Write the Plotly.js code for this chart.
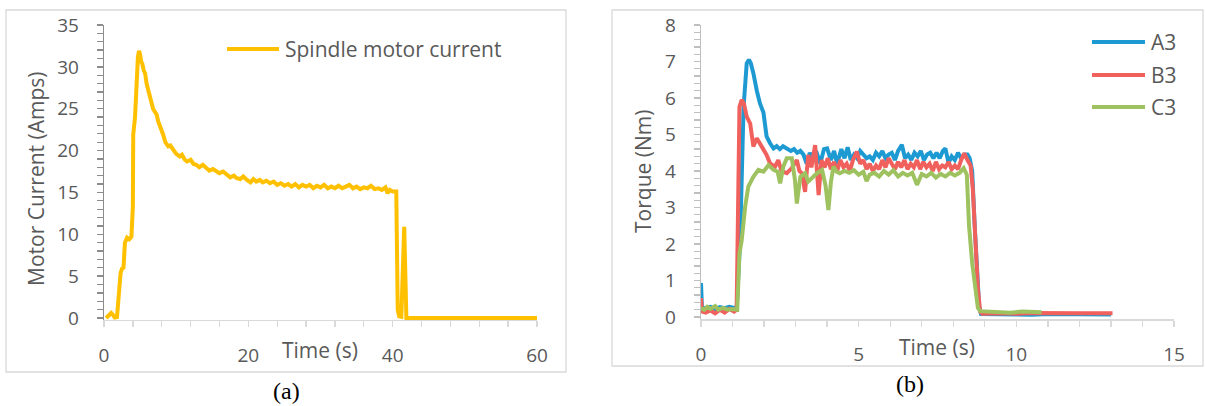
<!DOCTYPE html>
<html>
<head>
<meta charset="utf-8">
<script src="https://cdn.plot.ly/plotly-3.0.1.min.js"></script>
<style>html,body{margin:0;padding:0;background:#fff;}#chart{width:1205px;height:406px;}</style>
</head>
<body>
<div id="chart"></div>
<script>
// ---------- Data ----------
// (a) Spindle motor current
const spindleTime = [0.3,0.7,1.0,1.3,1.5,1.8,2.0,2.3,2.5,2.7,2.9,3.2,3.5,3.8,4.0,4.05,4.3,4.5,4.7,4.85,5.0,5.15,5.3,5.5,5.7,5.9,6.1,6.4,6.6,6.8,7.0,7.3,7.5,7.75,8.0,8.2,8.5,8.9,9.2,9.6,10.0,10.5,10.8,11.2,11.5,12.0,12.4,12.8,13.2,13.7,14.2,14.6,15.1,15.6,16.0,16.5,17.0,17.5,18.0,18.4,18.9,19.3,19.8,20.3,20.7,21.1,21.6,22.0,22.5,23.0,23.5,24.0,24.5,25.0,25.5,26.0,26.5,27.0,27.5,28.0,28.5,29.0,29.5,30.0,30.5,31.0,31.5,32.0,32.5,33.0,33.5,34.0,34.5,35.0,35.5,36.0,36.5,37.0,37.5,38.0,38.5,39.0,39.3,39.6,40.0,40.5,40.7,40.9,41.2,41.6,41.9,60];
const spindleCurrent = [0,0.3,0.6,0.3,0.05,0.1,2.1,5.4,5.9,6.0,9.0,9.6,9.4,9.7,13.3,21.9,24,28,31.2,31.9,31.5,30.6,30.4,29.6,29.2,28,27.3,26.4,26,25,24.7,24.3,23.5,23,22.4,21.9,21,20.5,20.6,20.1,19.6,19.3,19.5,18.9,18.7,18.9,18.4,18.3,18.0,18.3,17.9,17.6,17.8,17.5,17.3,17.5,17.1,16.8,17.0,16.7,16.6,16.9,16.5,16.2,16.6,16.3,16.5,16.2,16.4,16.1,16.3,15.9,16.1,15.8,16.0,15.7,16.0,15.6,15.9,15.7,15.9,15.5,15.8,15.6,15.9,15.5,15.7,15.5,15.8,15.5,15.7,15.9,15.5,15.7,15.4,15.6,15.5,15.8,15.4,15.5,15.3,15.6,14.9,15.3,15.1,15.1,1.0,0.2,0.15,10.9,0,0];

// (b) Torque
const a3Time = [0,0.03,0.15,0.3,0.45,0.6,0.75,0.9,1.05,1.13,1.24,1.35,1.45,1.52,1.58,1.66,1.77,1.87,1.98,2.08,2.19,2.3,2.4,2.5,2.6,2.72,2.85,2.95,3.05,3.15,3.25,3.35,3.45,3.55,3.65,3.78,3.9,4.0,4.12,4.22,4.32,4.45,4.55,4.65,4.75,4.85,4.95,5.05,5.15,5.25,5.35,5.45,5.55,5.65,5.75,5.85,5.95,6.05,6.15,6.25,6.37,6.47,6.57,6.67,6.77,6.87,6.97,7.07,7.17,7.27,7.37,7.47,7.57,7.67,7.75,7.85,7.95,8.05,8.15,8.25,8.35,8.45,8.52,8.6,8.68,8.75,8.82,8.88,9.5,10,10.5,11,12,13];
const a3Torque = [0.93,0.28,0.25,0.28,0.22,0.27,0.24,0.28,0.25,0.22,2.1,5.76,6.95,7.05,6.95,6.68,6.2,5.85,5.6,4.95,4.76,4.62,4.68,4.6,4.68,4.62,4.55,4.6,4.5,4.55,4.45,4.2,4.5,4.3,4.55,4.2,4.6,4.62,4.3,4.55,4.2,4.6,4.35,4.65,4.3,4.45,4.35,4.55,4.45,4.35,4.4,4.3,4.5,4.4,4.55,4.35,4.45,4.5,4.3,4.55,4.72,4.35,4.45,4.3,4.5,4.4,4.55,4.3,4.45,4.5,4.35,4.5,4.35,4.55,4.62,4.22,4.4,4.3,4.5,4.35,4.45,4.45,4.35,4.0,2.5,1.2,0.3,0.08,0.07,0.08,0.06,0.08,0.07,0.07];

const b3Time = [0,0.03,0.15,0.3,0.45,0.6,0.75,0.9,1.05,1.13,1.22,1.29,1.36,1.45,1.56,1.66,1.77,1.87,1.98,2.08,2.19,2.35,2.45,2.55,2.72,2.88,3.04,3.12,3.2,3.3,3.4,3.5,3.62,3.7,3.73,3.82,3.92,4.02,4.12,4.22,4.32,4.42,4.52,4.62,4.72,4.82,4.94,5.05,5.15,5.25,5.35,5.45,5.55,5.65,5.75,5.85,5.95,6.05,6.15,6.25,6.35,6.45,6.55,6.65,6.75,6.85,6.95,7.05,7.15,7.25,7.35,7.45,7.55,7.65,7.75,7.85,7.95,8.05,8.15,8.25,8.35,8.45,8.55,8.62,8.7,8.78,8.85,8.92,9.5,10,10.5,11,12,13.05];
const b3Torque = [0.52,0.15,0.12,0.18,0.1,0.2,0.12,0.22,0.15,0.2,5.76,5.95,5.85,5.49,5.3,4.67,4.9,4.75,4.57,4.44,4.21,4.12,4.3,4.0,3.94,4.08,4.3,4.0,3.94,3.43,4.44,4.1,4.71,3.7,3.34,4.3,4.1,4.35,4.05,4.25,4.0,4.3,4.1,4.2,4.0,4.3,4.53,4.2,4.3,4.05,4.2,4.0,4.15,4.05,4.3,4.1,4.35,4.2,4.05,4.25,4.1,4.3,4.05,4.2,4.1,4.3,4.05,4.25,4.1,4.2,4.0,4.25,4.05,4.15,4.1,4.25,4.05,4.15,4.05,4.3,4.48,4.3,4.15,3.5,2.0,0.8,0.15,0.09,0.1,0.09,0.11,0.1,0.1,0.1];

const c3Time = [0,0.1,0.2,0.3,0.45,0.55,0.7,0.85,1.0,1.15,1.22,1.29,1.4,1.5,1.66,1.82,1.98,2.14,2.3,2.43,2.51,2.61,2.72,2.88,2.98,3.04,3.15,3.3,3.4,3.55,3.68,3.84,3.95,4.04,4.12,4.2,4.3,4.4,4.55,4.7,4.85,5.0,5.15,5.25,5.35,5.5,5.65,5.8,5.95,6.1,6.25,6.4,6.55,6.7,6.85,7.0,7.15,7.3,7.45,7.6,7.75,7.9,8.05,8.2,8.33,8.43,8.5,8.6,8.7,8.78,8.85,9.3,9.8,10.2,10.8];
const c3Torque = [0.25,0.2,0.28,0.22,0.3,0.2,0.25,0.2,0.22,0.2,1.74,2.1,3.02,3.57,3.84,4.03,3.98,4.16,4.03,3.98,3.66,4.12,4.35,4.35,3.75,3.11,3.84,3.94,3.71,3.85,3.94,4.03,3.6,2.93,3.7,4.12,3.98,3.94,4.0,3.95,4.02,3.9,3.98,3.72,3.9,3.95,3.85,4.0,3.9,4.02,3.85,3.95,3.88,3.95,3.62,3.92,3.85,3.95,3.82,3.92,3.85,3.95,3.88,3.95,4.08,3.9,2.5,1.48,0.8,0.25,0.16,0.13,0.12,0.15,0.13];

const leftXTicks = [0,20,40,60];
const rightXTicks = [0,5,10,15];

// ---------- Layout helpers ----------
const W = 1205, H = 406;
const px = v => v / W;
const py = v => 1 - v / H;

const tickColor = '#595959';
const sansFont = 'Open Sans, Noto Sans, sans-serif';
const serifFont = 'Liberation Serif, DejaVu Serif, serif';

const colors = {spindle:'#FFC000', a3:'#1E9AD3', b3:'#F0605D', c3:'#9DC25F'};

const traces = [
  {x: spindleTime, y: spindleCurrent, name:'Spindle motor current', type:'scatter', mode:'lines',
   line:{color:colors.spindle, width:4}, xaxis:'x', yaxis:'y', showlegend:false},
  {x: a3Time, y: a3Torque, name:'A3', type:'scatter', mode:'lines',
   line:{color:colors.a3, width:4}, xaxis:'x2', yaxis:'y2', showlegend:false},
  {x: b3Time, y: b3Torque, name:'B3', type:'scatter', mode:'lines',
   line:{color:colors.b3, width:4}, xaxis:'x2', yaxis:'y2', showlegend:false},
  {x: c3Time, y: c3Torque, name:'C3', type:'scatter', mode:'lines',
   line:{color:colors.c3, width:4}, xaxis:'x2', yaxis:'y2', showlegend:false}
];

function xAxis(domain, range, tickvals, minorDtick, anchor){
  return {domain, range, anchor, tickvals, ticktext: tickvals.map(String),
    showline:true, linecolor:'#D9D9D9', linewidth:1.3, layer:'below traces',
    ticks:'outside', ticklen:6, tickcolor:'#D9D9D9', tickwidth:1.3,
    minor:{dtick:minorDtick, tick0:0, ticks:'outside', ticklen:6, tickcolor:'#D9D9D9', tickwidth:1.3},
    showgrid:false, zeroline:false, fixedrange:true,
    tickfont:{family:sansFont, size:19, color:tickColor}, ticklabelstandoff:12};
}
function yAxis(domain, range, dtick, minorDtick, anchor, lc){
  return {domain, range, anchor, dtick, tick0:0,
    showline:true, linecolor:lc, linewidth:1.3, layer:'below traces',
    ticks:'outside', ticklen:6, tickcolor:lc, tickwidth:1.3,
    minor:{dtick:minorDtick, tick0:0, ticks:'outside', ticklen:6, tickcolor:lc, tickwidth:1.3},
    showgrid:false, zeroline:false, fixedrange:true,
    tickfont:{family:sansFont, size:19, color:tickColor}, ticklabelstandoff:14};
}

const ann = (text, x, y, opts={}) => Object.assign({
  text, x:px(x), y:py(y), xref:'paper', yref:'paper', showarrow:false,
  xanchor:'center', yanchor:'middle',
  font:{family:sansFont, size:21, color:tickColor}}, opts);

const legLine = (x0, x1, y, color) => ({type:'line', xref:'paper', yref:'paper',
  x0:px(x0), x1:px(x1), y0:py(y), y1:py(y), line:{color, width:4}});

const layout = {
  width:W, height:H, margin:{l:0,r:0,t:0,b:0},
  paper_bgcolor:'#fff', plot_bgcolor:'rgba(0,0,0,0)', showlegend:false,
  xaxis: xAxis([px(104), px(537)], [0,60], leftXTicks, 4, 'y'),
  yaxis: yAxis([py(320.1), py(25)], [-0.25,35], 5, 1, 'x', '#8C8C8C'),
  xaxis2: xAxis([px(701), px(1174)], [0,15], rightXTicks, 1, 'y2'),
  yaxis2: yAxis([py(319.2), py(25)], [-0.06,8], 1, 0.2, 'x2', '#BFBFBF'),
  shapes: [
    {type:'rect', xref:'paper', yref:'paper', x0:px(6), x1:px(566), y0:py(372), y1:py(10),
     line:{color:'#D9D9D9', width:1.3}, layer:'below'},
    {type:'rect', xref:'paper', yref:'paper', x0:px(612), x1:px(1203), y0:py(366), y1:py(10),
     line:{color:'#D9D9D9', width:1.3}, layer:'below'},
    legLine(227, 279, 49, colors.spindle),
    legLine(1092, 1145, 42, colors.a3),
    legLine(1092, 1145, 75, colors.b3),
    legLine(1092, 1145, 107, colors.c3)
  ],
  annotations: [
    ann('Spindle motor current', 283, 49, {xanchor:'left'}),
    ann('A3', 1149, 42, {xanchor:'left'}),
    ann('B3', 1149, 75, {xanchor:'left'}),
    ann('C3', 1149, 107, {xanchor:'left'}),
    ann('Motor Current (Amps)', 36, 179, {textangle:-90}),
    ann('Torque (Nm)', 643, 172, {textangle:-90}),
    ann('Time (s)', 320, 350),
    ann('Time (s)', 937, 347),
    ann('(a)', 286, 391, {font:{family:serifFont, size:24, color:'#000'}}),
    ann('(b)', 910, 384, {font:{family:serifFont, size:24, color:'#000'}})
  ]
};

Plotly.newPlot('chart', traces, layout, {displayModeBar:false, staticPlot:true});
</script>
</body>
</html>
